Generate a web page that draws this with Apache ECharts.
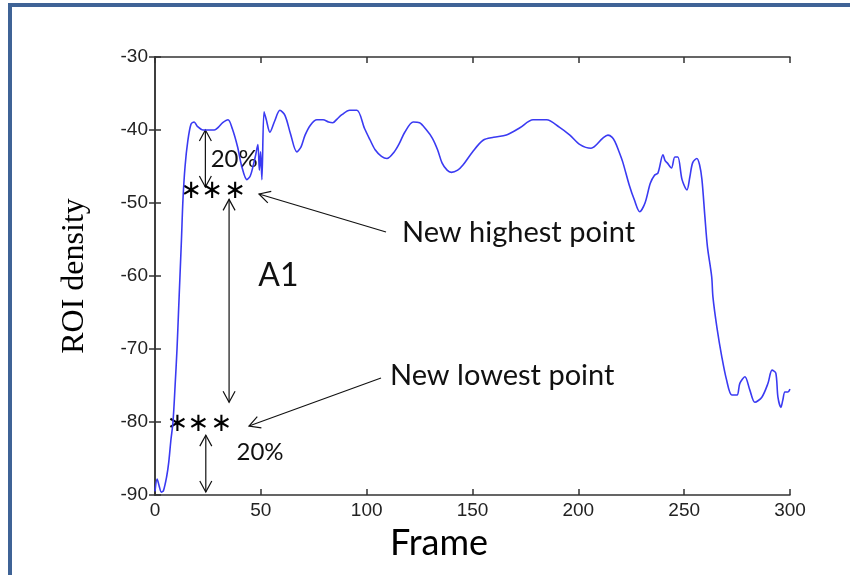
<!DOCTYPE html>
<html>
<head>
<meta charset="utf-8">
<script src="https://cdn.jsdelivr.net/npm/echarts@6/dist/echarts.min.js"></script>
<style>
  body { margin: 0; background: #fff; }
  #chart { position: absolute; left: 0; top: 0; width: 850px; height: 575px; }
  .frame { position: absolute; left: 8px; top: 3px; width: 850px; height: 580px;
           border-top: 4px solid #3f6396; border-left: 4px solid #3f6396; pointer-events: none; }
</style>
</head>
<body>
<div id="chart"></div>
<div class="frame"></div>
<script>
// frame numbers and ROI density
var frames = [0,1,2,3,4,5.5,6.5,7.5,8.5,9.5,10.4,11.1,11.8,12.5,13.2,14.2,15.5,17,18.5,20,
  22.7,25,28,30,32,34.5,36.5,39,41,43.4,45,46.3,47.5,48.6,49.3,49.9,50.5,51.5,52.5,54.3,
  56.5,59,61.4,64,67,69,70.9,73.5,76.5,79.4,82,84,86,88.3,92,95.4,99,101.5,104,107,
  109.6,113,115.5,118,122,125,128,131,133.5,135.6,138,140,143,145.5,150,155,160,166,172.4,178.6,
  185,191,196,200.8,206,211.6,214,216,217.3,219,221,224,226.5,229,231.5,234,236,237.6,240,241,
  242,244,245.6,247,249,251.3,252.7,254,256,257.3,258.4,259.8,261,263,263.6,265.5,267.8,270,272.5,275,
  276.3,278.7,281,283.4,286.7,289.6,291.5,293.3,294.3,295.7,296.6,297.6,299,300];
var roiDensity = [-89.5,-87.8,-88.8,-89.6,-89.4,-87.5,-85.5,-82.5,-80,-75,-70,-65,-60,-55,-49.6,-45,-41.5,-39.2,-38.9,-39.5,
  -40,-40,-40,-39.6,-39,-38.6,-39.8,-42.3,-45,-46.8,-46.3,-45,-43.5,-42,-45.5,-43,-46.8,-37.5,-38.5,-40.3,
  -38.8,-37.3,-38,-40.5,-43,-42.3,-40.7,-39.3,-38.6,-38.6,-38.9,-39,-38.5,-37.9,-37.3,-37.3,-39.8,-41.3,-42.7,-43.6,
  -43.9,-43,-41.8,-40.3,-38.9,-39,-39.9,-41.1,-42.7,-44.5,-45.5,-45.8,-45.5,-44.8,-43,-41.4,-41,-40.7,-39.7,-38.6,
  -38.6,-39.6,-40.7,-42,-42.5,-41.1,-40.7,-41,-41.6,-42.8,-44.4,-47.5,-49.6,-51.2,-50,-47.3,-46.2,-45.9,-43.4,-44.2,
  -44.5,-45.2,-43.7,-43.7,-46.8,-48.2,-46.4,-44.5,-43.9,-44.8,-46.8,-51.9,-56,-60.1,-62.9,-67.1,-71.1,-74.2,-76.3,-76.3,
  -74.7,-73.8,-75.6,-77.3,-76.6,-74.7,-72.9,-73.3,-76.6,-78,-77,-75.9,-75.9,-75.5];
var xTicks = [0, 50, 100, 150, 200, 250, 300];
var yTicks = [-90, -80, -70, -60, -50, -40, -30];

var points = frames.map(function (f, i) { return [f, roiDensity[i]]; });

var chart = echarts.init(document.getElementById('chart'));

var tickFont = { color: '#222', fontFamily: "'Liberation Sans Narrow', 'Liberation Sans'", fontSize: 19 };
var lineStyle = { color: '#333', width: 1.5 };

chart.setOption({
  animation: false,
  grid: { left: 155, right: 60, top: 57, bottom: 80, show: false },
  xAxis: [{
    type: 'value', min: xTicks[0], max: xTicks[xTicks.length - 1], interval: 50,
    axisLine: { lineStyle: lineStyle },
    axisTick: { inside: true, length: 6, lineStyle: lineStyle },
    axisLabel: Object.assign({ margin: 6 }, tickFont),
    splitLine: { show: false }
  }, {
    type: 'value', position: 'top', min: xTicks[0], max: xTicks[xTicks.length - 1], interval: 50,
    axisLine: { show: true, lineStyle: lineStyle },
    axisTick: { inside: true, length: 6, lineStyle: lineStyle },
    axisLabel: { show: false }, splitLine: { show: false }
  }],
  yAxis: [{
    type: 'value', min: yTicks[0], max: yTicks[yTicks.length - 1], interval: 10,
    name: 'ROI density', nameLocation: 'middle', nameGap: 64,
    nameTextStyle: { fontFamily: 'Liberation Serif', fontSize: 32, color: '#000' },
    axisLine: { show: true, lineStyle: lineStyle },
    axisTick: { show: true, inside: true, length: 6, lineStyle: lineStyle },
    axisLabel: Object.assign({ margin: 7 }, tickFont),
    splitLine: { show: false }
  }, {
    type: 'value', position: 'right', min: yTicks[0], max: yTicks[yTicks.length - 1], interval: 10,
    axisLine: { show: true, lineStyle: lineStyle },
    axisTick: { show: true, inside: true, length: 6, lineStyle: lineStyle },
    axisLabel: { show: false }, splitLine: { show: false }
  }],
  series: [{
    type: 'line', data: points, showSymbol: false, smooth: 0.3,
    lineStyle: { color: '#3a3af2', width: 1.6 }
  }]
});

// annotations: arrows and labels placed in data coordinates
function px(f, v) { return chart.convertToPixel({ xAxisIndex: 0, yAxisIndex: 0 }, [f, v]); }

function head(tip, from) {
  var dx = from[0] - tip[0], dy = from[1] - tip[1];
  var len = Math.sqrt(dx * dx + dy * dy);
  var ux = dx / len, uy = dy / len, L = 11, W = 6;
  return {
    type: 'polyline', silent: true,
    shape: { points: [
      [tip[0] + ux * L - uy * W, tip[1] + uy * L + ux * W],
      tip,
      [tip[0] + ux * L + uy * W, tip[1] + uy * L - ux * W]
    ] },
    style: { stroke: '#111', lineWidth: 1.2, fill: null }
  };
}

function arrow(a, b, both) {
  var els = [{ type: 'line', silent: true, shape: { x1: a[0], y1: a[1], x2: b[0], y2: b[1] },
               style: { stroke: '#111', lineWidth: 1.2 } }, head(b, a)];
  if (both) els.push(head(a, b));
  return els;
}

function label(p, text, size, font) {
  return { type: 'text', silent: true, x: p[0], y: p[1],
           style: { text: text, fontSize: size, fontFamily: font || 'Lato', fill: '#111',
                    verticalAlign: 'middle', align: 'left' } };
}

function stars(f, v) {
  var p = px(f, v), els = [];
  [-21, 0, 23].forEach(function (d) {
    els.push({ type: 'text', silent: true, x: p[0] + d, y: p[1] + 1,
      style: { text: '\u2217', fontSize: 26, fontFamily: 'DejaVu Sans',
               fill: '#000', align: 'center', verticalAlign: 'middle' } });
  });
  return els;
}

var g = [];
g = g.concat(arrow(px(23.8, -40), px(23.8, -47.8), true));
g = g.concat(arrow(px(35, -49.5), px(35, -77.3), true));
g = g.concat(arrow(px(24, -81.8), px(24, -89.6), true));
g = g.concat(stars(27, -48.3));
g = g.concat(stars(20.5, -80.2));
g = g.concat(arrow([386, 232], [259, 194], false));
g = g.concat(arrow([381, 378], [249, 426], false));
g.push(label(px(26.3, -44), '20%', 24));
g.push(label(px(38.5, -84.2), '20%', 24));
g.push(label(px(48.8, -59.9), 'A1', 32));
g.push(label([402, 233], 'New highest point', 29));
g.push(label([390, 376], 'New lowest point', 29));
// x-axis title sits left of the axis centre in the original
g.push({ type: 'text', silent: true, x: 439, y: 543,
         style: { text: 'Frame', fontSize: 36, fontFamily: 'Lato', fill: '#000',
                  align: 'center', verticalAlign: 'middle' } });

chart.setOption({ graphic: g });
</script>
</body>
</html>
